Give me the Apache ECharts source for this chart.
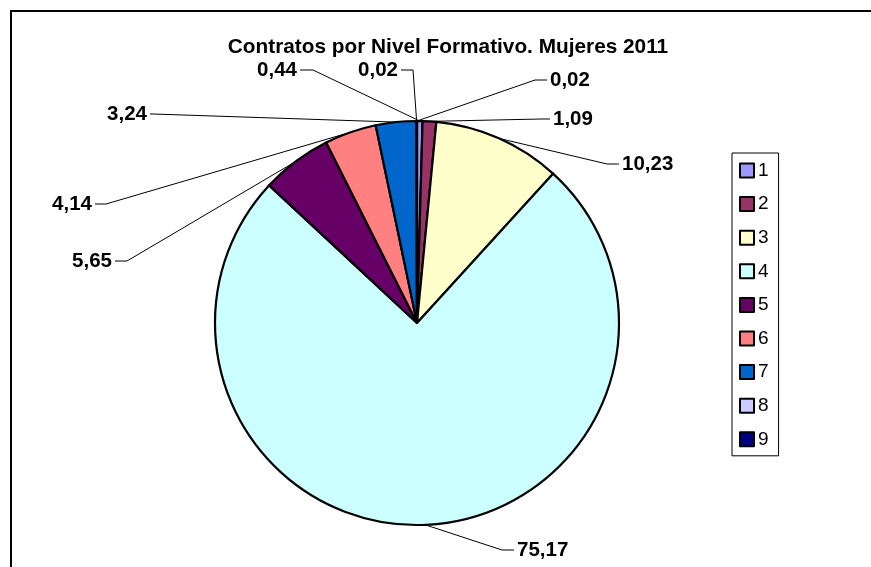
<!DOCTYPE html>
<html><head><meta charset="utf-8">
<script src="https://cdn.jsdelivr.net/npm/echarts@6/dist/echarts.min.js"></script>
<style>html,body{margin:0;padding:0;background:#fff}#c{width:871px;height:567px}</style>
</head><body><div id="c"></div>
<script>
// ---- data ----
const categories = ['1', '2', '3', '4', '5', '6', '7', '8', '9'];
const values = [0.44, 1.09, 10.23, 75.17, 5.65, 4.14, 3.24, 0.02, 0.02];
const valueLabels = ['0,44', '1,09', '10,23', '75,17', '5,65', '4,14', '3,24', '0,02', '0,02'];
const titleText = 'Contratos por Nivel Formativo. Mujeres 2011';

// ---- styles / layout (not data) ----
const colors = ['#9999FF', '#993366', '#FFFFCC', '#CCFFFF', '#660066', '#FF8080', '#0066CC', '#CCCCFF', '#000080'];
// label placement: [x, y, align, bendX]
const labelPlacement = [
  [297, 70, 'right', 313],
  [553, 119, 'left', 541],
  [622, 164, 'left', 607],
  [517, 550, 'left', 502],
  [112, 261, 'right', 127],
  [92, 204, 'right', 106],
  [147, 114, 'right', 153],
  [398, 70, 'right', 413],
  [550, 80, 'left', 535]
];
const FONT = 'Arial, "Liberation Sans", sans-serif';

const chart = echarts.init(document.getElementById('c'), null, {renderer: 'canvas'});
const seriesData = categories.map((c, i) => ({name: c, value: values[i], itemStyle: {color: colors[i]}}));

chart.setOption({
  animation: false,
  backgroundColor: '#fff',
  title: {
    text: titleText, left: 443, top: 32, textAlign: 'center',
    textStyle: {fontFamily: FONT, fontSize: 20.8, fontWeight: 'bold', color: '#000', lineHeight: 21}
  },
  graphic: [{
    type: 'rect', shape: {x: 11, y: 11, width: 1000, height: 1000},
    style: {fill: 'none', stroke: '#000', lineWidth: 2}, silent: true, z: 100
  }],
  legend: {
    orient: 'vertical', left: 732, top: 153,
    padding: [8, 10, 7, 7],
    borderColor: '#000', borderWidth: 1,
    itemWidth: 14, itemHeight: 14, itemGap: 14.6, icon: 'rect',
    itemStyle: {borderColor: '#000', borderWidth: 2},
    textStyle: {fontFamily: FONT, fontSize: 19, color: '#000', lineHeight: 18, padding: [0, 0, 0, -1]},
    data: categories
  },
  series: [{
    type: 'pie',
    center: [417, 323], radius: 202,
    startAngle: 90, clockwise: true,
    avoidLabelOverlap: false,
    data: seriesData,
    itemStyle: {borderColor: '#000', borderWidth: 2.2},
    label: {
      show: true, position: 'outside',
      formatter: p => valueLabels[p.dataIndex],
      fontFamily: FONT, fontSize: 20.5, fontWeight: 'bold', color: '#000'
    },
    labelLine: {show: true, length: 10, length2: 10, lineStyle: {color: '#000', width: 1}},
    emphasis: {disabled: true},
    labelLayout: function (params) {
      const p = labelPlacement[params.dataIndex];
      let anchor = [417, 121];
      if (params.labelLinePoints && params.labelLinePoints[0]) {
        anchor = [params.labelLinePoints[0][0], params.labelLinePoints[0][1]];
      }
      const endX = p[2] === 'right' ? p[0] + 3 : p[0] - 3;
      return {
        x: p[0], y: p[1], align: p[2], verticalAlign: 'middle',
        labelLinePoints: [anchor, [p[3], p[1]], [endX, p[1]]]
      };
    }
  }]
});
</script>
</body></html>
